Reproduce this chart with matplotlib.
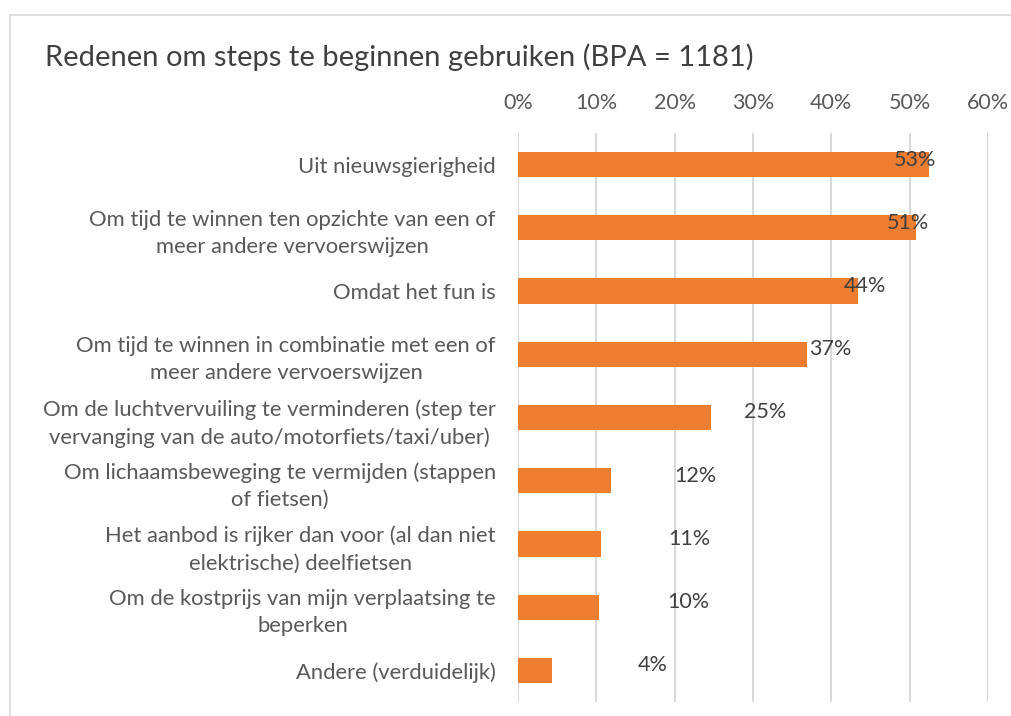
import matplotlib
matplotlib.use('Agg')
import matplotlib.pyplot as plt
from matplotlib.patches import Rectangle

# reasons to start using e-steps, share of respondents (%)
categories = [
    "Uit nieuwsgierigheid",
    "Om tijd te winnen ten opzichte van een of\nmeer andere vervoerswijzen",
    "Omdat het fun is",
    "Om tijd te winnen in combinatie met een of\nmeer andere vervoerswijzen",
    "Om de luchtvervuiling te verminderen (step ter\nvervanging van de auto/motorfiets/taxi/uber)",
    "Om lichaamsbeweging te vermijden (stappen\nof fietsen)",
    "Het aanbod is rijker dan voor (al dan niet\nelektrische) deelfietsen",
    "Om de kostprijs van mijn verplaatsing te\nbeperken",
    "Andere (verduidelijk)",
]
values = [52.5, 50.8, 43.4, 36.9, 24.6, 11.9, 10.6, 10.4, 4.3]
value_labels = ["53%", "51%", "44%", "37%", "25%", "12%", "11%", "10%", "4%"]
# where excel dropped the data labels (left edge, in % units)
label_x = [48.0, 47.1, 41.6, 37.1, 28.9, 19.9, 19.2, 19.0, 15.3]
ticks = [0, 10, 20, 30, 40, 50, 60]

plt.rcParams['font.family'] = ['Lato', 'DejaVu Sans']

W, H = 1012, 716
fig = plt.figure(figsize=(W / 100, H / 100), dpi=100)

# chart frame like excel
fig.patches.append(Rectangle((10 / W, -0.05), 1.1, 1 - 15 / H + 0.05,
                             transform=fig.transFigure, fill=False,
                             edgecolor='#d9d9d9', linewidth=1.2))

ax = fig.add_axes([518 / W, 1 - 702 / H, (988 - 518) / W, (702 - 133) / H])

y = list(range(len(categories)))
ax.barh(y, values, height=0.4, color='#ed7d31', zorder=3)

for yi, lx, txt in zip(y, label_x, value_labels):
    ax.text(lx, yi - 0.08, txt, ha='left', va='center', fontsize=15.5,
            color='#404040', zorder=4)

ax.set_xlim(0, 60)
ax.set_ylim(len(categories) - 0.5, -0.5)
ax.set_xticks(ticks)
ax.set_xticklabels([f"{t}%" for t in ticks])
ax.xaxis.tick_top()
ax.tick_params(axis='x', length=0, pad=14.5, labelsize=15.5, labelcolor='#595959')
ax.grid(axis='x', color='#d9d9d9', linewidth=1.5, zorder=0)

ax.set_yticks(y)
ax.set_yticklabels(categories)
ax.tick_params(axis='y', length=0, pad=16, labelsize=15.8, labelcolor='#595959')
for lab in ax.get_yticklabels():
    lab.set_multialignment('center')
    lab.set_linespacing(1.45)

for s in ax.spines.values():
    s.set_visible(False)

fig.text(45 / W, 1 - 57 / H, "Redenen om steps te beginnen gebruiken (BPA = 1181)",
         fontsize=21, color='#404040', va='center', ha='left')

plt.savefig('out.png', dpi=100)
